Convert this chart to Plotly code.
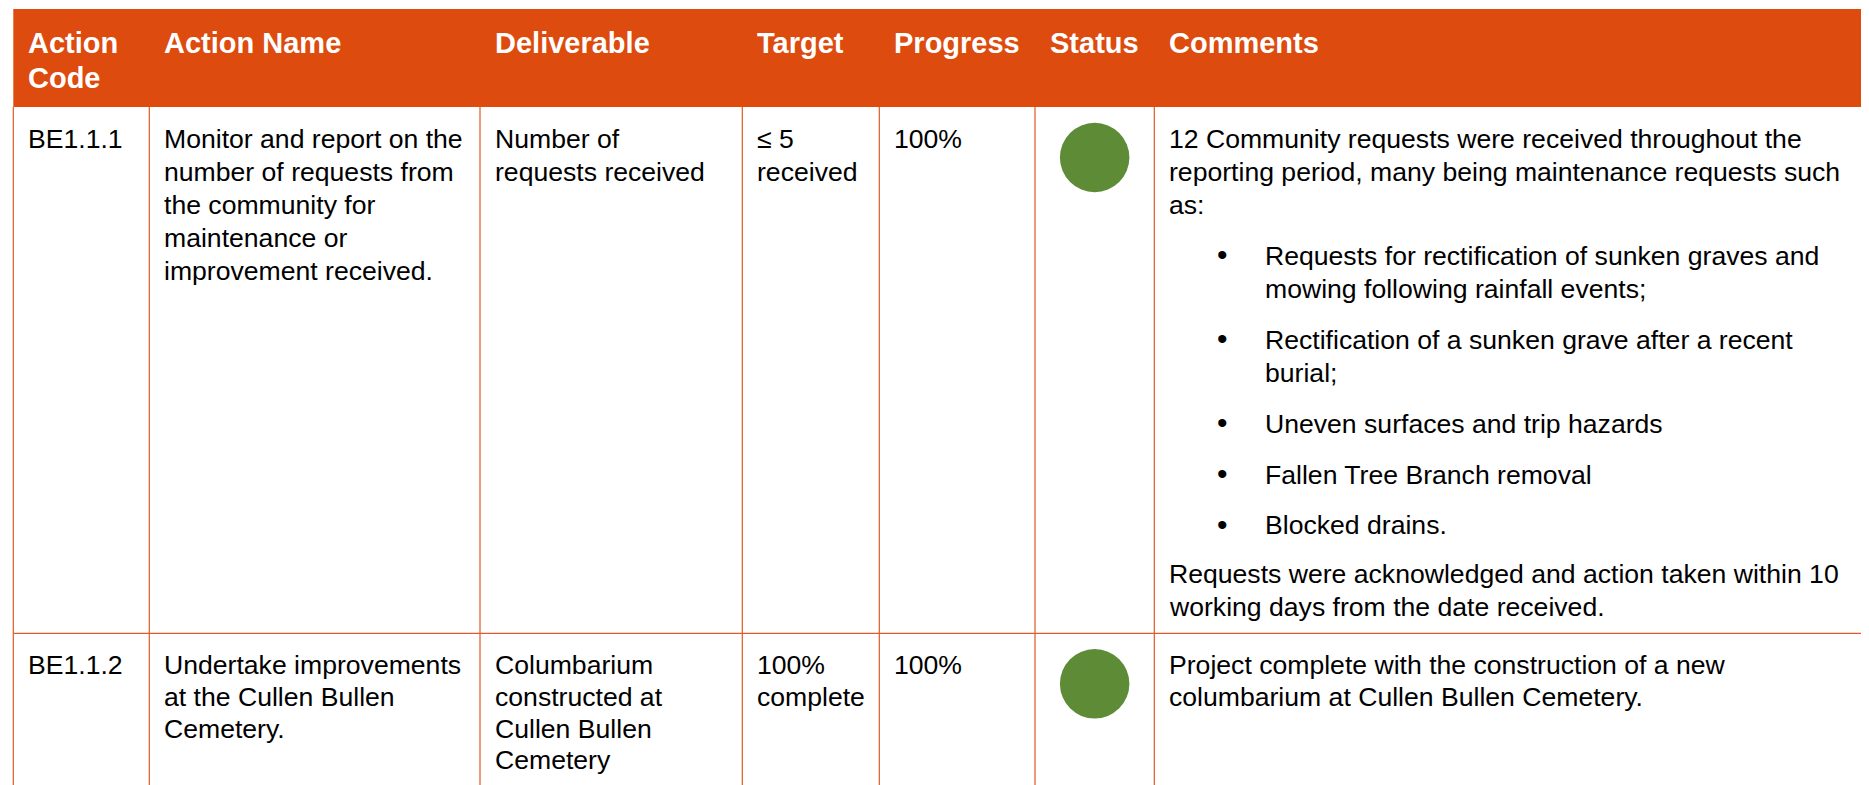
import plotly.graph_objects as go

# ---------------- data ----------------
headers = [["Action", "Code"], ["Action Name"], ["Deliverable"], ["Target"],
           ["Progress"], ["Status"], ["Comments"]]
action_codes = ["BE1.1.1", "BE1.1.2"]
action_names = [
    ["Monitor and report on the", "number of requests from", "the community for",
     "maintenance or", "improvement received."],
    ["Undertake improvements", "at the Cullen Bullen", "Cemetery."],
]
deliverables = [
    ["Number of", "requests received"],
    ["Columbarium", "constructed at", "Cullen Bullen", "Cemetery"],
]
targets = [["≤ 5", "received"], ["100%", "complete"]]
progress = ["100%", "100%"]
status = ["Complete", "Complete"]
comments = [
    [
        ("p", ["12 Community requests were received throughout the",
               "reporting period, many being maintenance requests such",
               "as:"]),
        ("b", ["Requests for rectification of sunken graves and",
               "mowing following rainfall events;"]),
        ("b", ["Rectification of a sunken grave after a recent",
               "burial;"]),
        ("b", ["Uneven surfaces and trip hazards"]),
        ("b", ["Fallen Tree Branch removal"]),
        ("b", ["Blocked drains."]),
        ("p", ["Requests were acknowledged and action taken within 10",
               "working days from the date received."]),
    ],
    [
        ("p", ["Project complete with the construction of a new",
               "columbarium at Cullen Bullen Cemetery."]),
    ],
]

# ---------------- layout constants ----------------
W, H = 1869, 785
OFF = 8  # page body margin compensation
FONT = "Arial, 'Liberation Sans', sans-serif"
ORANGE = "#DD4B0E"
LINE = "#DF5A24"
GREEN = "#5E8B36"
BODY_FS = 26.6
HEAD_FS = 29
col_edges = [13.3, 149.3, 480, 742.3, 879.3, 1035, 1154.3, 1900]
header_top, header_bottom = 9, 107
row_tops = [107, 633.3]
row_bottoms = [633.3, 800]
row_lh = [33.2, 31.8]
first_base = 41
PAD = 13.5
para_gap = 17.6
bullet_x = 1222.7
bullet_text_x = 1263.5

BASE_OFF = 0.35  # baseline offset fraction for middle-anchored text

annotations = []
shapes = []


def add_text(x, base, text, fs, color="#000000", bold=False, anchor="left"):
    t = f"<b>{text}</b>" if bold else text
    annotations.append(dict(
        x=x, y=base - BASE_OFF * fs, xref="x", yref="y", text=t, showarrow=False,
        xanchor=anchor, yanchor="middle", borderpad=0,
        font=dict(family=FONT, size=fs, color=color),
    ))


# header background
shapes.append(dict(type="rect", x0=col_edges[0], x1=W + 20, y0=header_top, y1=header_bottom,
                   xref="x", yref="y", fillcolor=ORANGE, line=dict(width=0), layer="below"))

# header text
for ci, lines in enumerate(headers):
    for li, ln in enumerate(lines):
        add_text(col_edges[ci] + PAD, 53 + li * 35, ln, HEAD_FS, "#FFFFFF", bold=True)

# grid lines
for ri in range(len(action_codes)):
    for ci in range(7):
        shapes.append(dict(type="line", x0=col_edges[ci], x1=col_edges[ci],
                           y0=row_tops[ri], y1=row_bottoms[ri], xref="x", yref="y",
                           line=dict(color=LINE, width=1.2)))
    if ri > 0:
        shapes.append(dict(type="line", x0=col_edges[0], x1=W + 20, y0=row_tops[ri],
                           y1=row_tops[ri], xref="x", yref="y",
                           line=dict(color=LINE, width=1.2)))

# body text
for ri in range(len(action_codes)):
    b0 = row_tops[ri] + first_base
    lh = row_lh[ri]
    cells = [[action_codes[ri]], action_names[ri], deliverables[ri], targets[ri],
             [progress[ri]]]
    for ci, lines in enumerate(cells):
        for li, ln in enumerate(lines):
            add_text(col_edges[ci] + PAD, b0 + li * lh, ln, BODY_FS)
    # comments
    line_idx = 0
    for pi, (kind, lines) in enumerate(comments[ri]):
        gap = pi * para_gap
        if pi == len(comments[ri]) - 1 and pi > 0:
            gap -= 2
        for li, ln in enumerate(lines):
            base = b0 + line_idx * lh + gap
            if kind == "b":
                if li == 0:
                    add_text(bullet_x, base, "•", 30, anchor="center")
                add_text(bullet_text_x, base, ln, BODY_FS)
            else:
                add_text(col_edges[6] + PAD, base, ln, BODY_FS)
            line_idx += 1

# status circles
status_colors = {"Complete": GREEN}
sx = [(col_edges[5] + col_edges[6]) / 2 for _ in status]
sy = [row_tops[i] + 50.5 for i in range(len(status))]
fig = go.Figure()
fig.add_trace(go.Scatter(
    x=sx, y=sy, mode="markers",
    marker=dict(size=69.5, color=[status_colors[s] for s in status], line=dict(width=0)),
    hoverinfo="skip", showlegend=False,
))

fig.update_layout(
    width=W, height=H, margin=dict(l=0, r=0, t=0, b=0),
    paper_bgcolor="#FFFFFF", plot_bgcolor="#FFFFFF",
    xaxis=dict(range=[OFF, W + OFF], visible=False, fixedrange=True),
    yaxis=dict(range=[H + OFF, OFF], visible=False, fixedrange=True),
    shapes=shapes, annotations=annotations, showlegend=False,
)
fig.write_html("out.html")
